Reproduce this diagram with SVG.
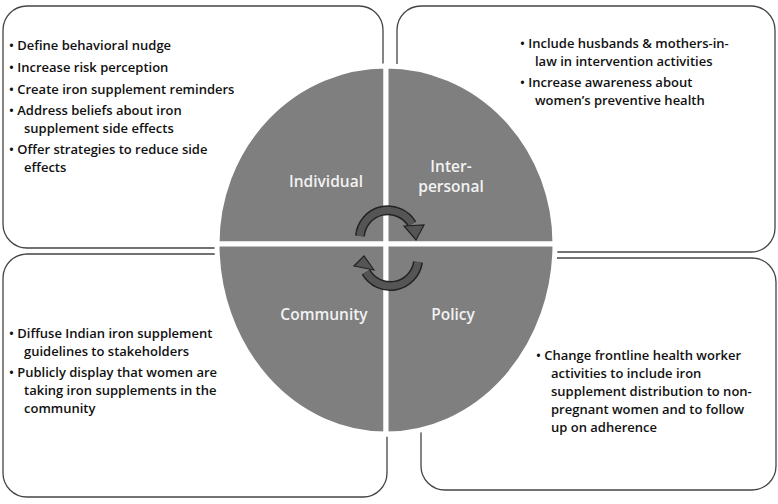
<svg xmlns="http://www.w3.org/2000/svg" width="778" height="504" viewBox="0 0 778 504">
<style>
.box{fill:#fff;stroke:#444;stroke-width:1.3}
.t{font-family:"Open Sans","Liberation Sans",sans-serif;font-size:13px;font-weight:600;fill:#111}
.q{fill:#7f7f7f;stroke:#fff;stroke-width:5}
.ql{font-family:"Open Sans","Liberation Sans",sans-serif;font-size:15.5px;font-weight:600;fill:#f2f2f2;text-anchor:middle}
.ao{fill:none;stroke:#222;stroke-width:10}
.ai{fill:none;stroke:#555;stroke-width:7}
.ah{fill:#555;stroke:#222;stroke-width:1.2}
</style>
<rect width="778" height="504" fill="#fff"/>
<g id="box-individual"><rect class="box" x="3" y="6" width="380" height="242" rx="24"/>
<text class="t"><tspan x="9" y="50">• Define behavioral nudge</tspan><tspan x="9" y="72">• Increase risk perception</tspan><tspan x="9" y="94">• Create iron supplement reminders</tspan><tspan x="9" y="115">• Address beliefs about iron</tspan><tspan x="24" y="133">supplement side effects</tspan><tspan x="9" y="154">• Offer strategies to reduce side</tspan><tspan x="24" y="172">effects</tspan></text></g>
<g id="box-interpersonal"><rect class="box" x="397" y="6" width="378" height="246" rx="24"/>
<text class="t"><tspan x="520" y="48">• Include husbands &amp; mothers-in-</tspan><tspan x="535" y="66">law in intervention activities</tspan><tspan x="520" y="87">• Increase awareness about</tspan><tspan x="535" y="105">women’s preventive health</tspan></text></g>
<g id="box-community"><rect class="box" x="3" y="254" width="384" height="243" rx="24"/>
<text class="t"><tspan x="9" y="338">• Diffuse Indian iron supplement</tspan><tspan x="24" y="356">guidelines to stakeholders</tspan><tspan x="9" y="377">• Publicly display that women are</tspan><tspan x="24" y="395">taking iron supplements in the</tspan><tspan x="24" y="413">community</tspan></text></g>
<g id="box-policy"><rect class="box" x="421" y="258" width="355" height="232" rx="24"/>
<text class="t"><tspan x="536" y="360">• Change frontline health worker</tspan><tspan x="551" y="378">activities to include iron</tspan><tspan x="551" y="396">supplement distribution to non-</tspan><tspan x="551" y="414">pregnant women and to follow</tspan><tspan x="551" y="432">up on adherence</tspan></text></g>
<g id="quad-individual"><path class="q" d="M386,244 L386,66 A169,178 0 0 0 217,244 Z"/><text class="ql" x="326" y="187">Individual</text></g>
<g id="quad-interpersonal"><path class="q" d="M386,244 L386,66 A169,178 0 0 1 555,244 Z"/><text class="ql" x="451" y="172">Inter-</text><text class="ql" x="451" y="192">personal</text></g>
<g id="quad-community"><path class="q" d="M386,244 L217,244 A169,190 0 0 0 386,434 Z"/><text class="ql" x="324" y="320">Community</text></g>
<g id="quad-policy"><path class="q" d="M386,244 L555,244 A169,190 0 0 1 386,434 Z"/><text class="ql" x="453" y="320">Policy</text></g>
<g id="connectors">
<path class="ao" d="M360,236 A28,28 0 0 1 412,224"/>
<path class="ai" d="M360,236 A28,28 0 0 1 412,224"/>
<polygon class="ah" points="404,226 424,225 416,240"/>
<path class="ao" d="M418,262 A28,28 0 0 1 366,272"/>
<path class="ai" d="M418,262 A28,28 0 0 1 366,272"/>
<polygon class="ah" points="374,270 354,266 364,256"/>
</g>
</svg>
